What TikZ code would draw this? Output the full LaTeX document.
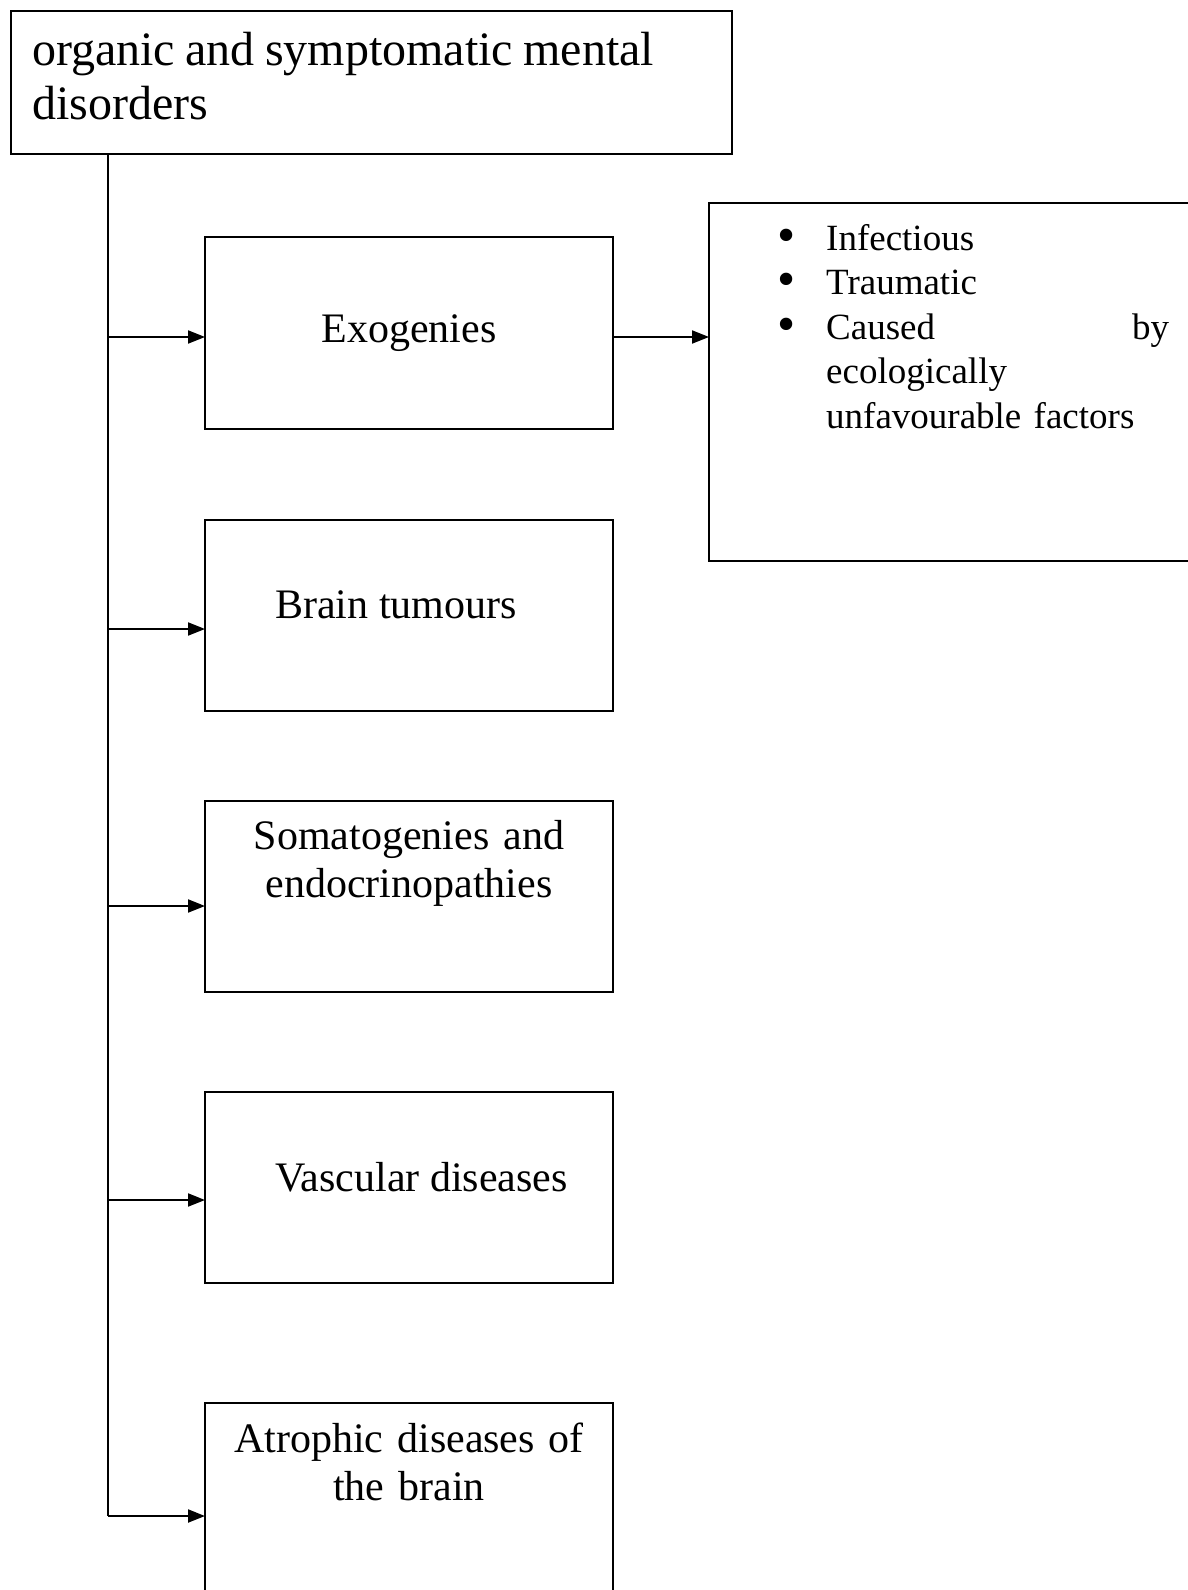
\documentclass[tikz,border=0pt]{standalone}
\usepackage{fontspec}
\setmainfont{Liberation Serif}
\usepackage{graphicx}
\usetikzlibrary{arrows.meta}
\tikzset{
  x=1pt, y=-1pt,
  box/.style={draw, line width=2pt, rectangle, inner sep=0pt, outer sep=0pt, anchor=north west},
  conn/.style={line width=2pt},
  arr/.style={line width=2pt, -{Triangle[length=17pt,width=13pt]}},
  big/.style={font=\fontsize{48}{54}\selectfont, inner sep=0pt},
  mid/.style={font=\fontsize{42}{48.5}\selectfont, inner sep=0pt},
  small/.style={font=\fontsize{37}{44.5}\selectfont, inner sep=0pt},
}
\newcommand{\blt}{\makebox[80pt]{\raisebox{-2pt}{\scalebox{1.4}{\textbullet}}}}
\newcommand{\tightspace}{\spaceskip=10.3pt\relax}
\begin{document}
\begin{tikzpicture}
\useasboundingbox (0,0) rectangle (1188,1590);
\clip (0,0) rectangle (1188,1590);
% boxes
\node[box, minimum width=721pt, minimum height=143pt] (top) at (11,11) {};
\node[box, minimum width=408pt, minimum height=192pt] (exo) at (205,237) {};
\node[box, minimum width=408pt, minimum height=191pt] (brain) at (205,520) {};
\node[box, minimum width=408pt, minimum height=191pt] (soma) at (205,801) {};
\node[box, minimum width=408pt, minimum height=191pt] (vasc) at (205,1092) {};
\node[box, minimum width=408pt, minimum height=260pt] (atro) at (205,1403) {};
\node[box, minimum width=520pt, minimum height=358pt] (right) at (709,203) {};
% texts
\node[big, anchor=base west, align=left, text width=700pt] (ttop) at (32,65) {\tightspace organic and symptomatic mental\\disorders};
\node[mid, anchor=base] (texo) at (409,342) {Exogenies};
\node[mid, anchor=base west] (tbrain) at (275,618) {Brain tumours};
\node[mid, anchor=base, align=center, text width=408pt] (tsoma) at (409,849) {Somatogenies and\\endocrinopathies};
\node[mid, anchor=base west] (tvasc) at (275,1191) {Vascular diseases};
\node[mid, anchor=base, align=center, text width=408pt] (tatro) at (409,1452) {Atrophic diseases of\\the brain};
\node[small, anchor=base west, align=left, text width=423pt] (tlist) at (746,250) {%
\blt Infectious\\
\blt Traumatic\\
\blt Caused\hskip 0pt plus 1filll by\\
\hspace*{80pt}ecologically\\
\hspace*{80pt}unfavourable factors};
% connectors
\coordinate (j1) at (108,337);
\coordinate (j2) at (108,629);
\coordinate (j3) at (108,906);
\coordinate (j4) at (108,1200);
\coordinate (j5) at (108,1516);
\draw[conn] (top.south -| j5) -- (j5);
\draw[arr] (j1) -- (j1 -| exo.west);
\draw[arr] (j2) -- (j2 -| brain.west);
\draw[arr] (j3) -- (j3 -| soma.west);
\draw[arr] (j4) -- (j4 -| vasc.west);
\draw[arr] (j5) -- (j5 -| atro.west);
\draw[arr] (j1 -| exo.east) -- (j1 -| right.west);
\end{tikzpicture}
\end{document}
